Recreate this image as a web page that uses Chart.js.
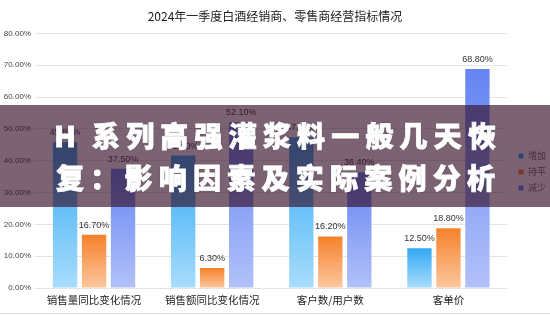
<!DOCTYPE html>
<html>
<head>
<meta charset="utf-8">
<script src="https://cdn.jsdelivr.net/npm/chart.js@4.4.1/dist/chart.umd.min.js"></script>
<style>
html,body{margin:0;padding:0;background:#fff;}
#wrap{position:relative;width:550px;height:315px;overflow:hidden;background:#fff;}
#overlay{position:absolute;left:0;top:105px;width:550px;height:102px;background:rgba(52,15,40,0.65);}
#overlay span{position:absolute;width:28px;text-align:center;color:#fff;font-family:"Noto Sans CJK SC","Noto Sans",sans-serif;font-weight:900;font-size:28px;white-space:nowrap;line-height:40px;-webkit-text-stroke:0.8px #fff;text-shadow:0 0 2px rgba(0,0,0,0.35);}
#frame{position:absolute;left:0;top:313px;width:550px;height:1px;background:#dcdcdc;}
</style>
</head>
<body>
<div id="wrap">
  <canvas id="c" width="550" height="315"></canvas>
  <div id="frame"></div>
  <div id="overlay"></div>
</div>
<script>
// ---- data ----
const chartTitle = '2024年一季度白酒经销商、零售商经营指标情况';
const categories = ['销售量同比变化情况', '销售额同比变化情况', '客户数/用户数', '客单价'];
const seriesNames = ['增加', '持平', '减少'];
const increaseValues = [45.8, 41.6, 47.4, 12.5];
const flatValues = [16.7, 6.3, 16.2, 18.8];
const decreaseValues = [37.5, 52.1, 36.4, 68.8];
const yMax = 80;
const yStep = 10;
const bannerText = ['H 系列高强灌浆料一般几天恢', '复：影响因素及实际案例分析'];

// ---- banner layout (one glyph per slot) ----
(function buildBanner() {
  const ov = document.getElementById('overlay');
  const rows = [
    { chars: ['H'].concat(Array.from(bannerText[0].slice(2))), lefts: null, start: 92, pitch: 34.18, top: 10 },
    { chars: Array.from(bannerText[1]), start: 56, pitch: 34.25, top: 52 }
  ];
  rows.forEach((row, r) => {
    row.chars.forEach((ch, k) => {
      const s = document.createElement('span');
      s.textContent = ch;
      let left;
      if (r === 0 && k === 0) { left = 51; }
      else { const idx = r === 0 ? k - 1 : k; left = row.start + idx * row.pitch; }
      s.style.left = left + 'px';
      s.style.top = row.top + 'px';
      ov.appendChild(s);
    });
  });
})();

// ---- styles ----
const topColors = ['#32a8f3', '#f5812a', '#6484f2'];
const bottomColors = ['#a8ddfc', '#fcc79e', '#b2c1f9'];
const cjk = '"Noto Sans CJK SC","Noto Sans",sans-serif';
const latin = '"Liberation Sans",Arial,sans-serif';

function barGradient(i) {
  return (c) => {
    const chart = c.chart;
    const ys = chart.scales && chart.scales.y;
    if (!ys || !c.parsed) return topColors[i];
    const y0 = ys.getPixelForValue(c.parsed.y);
    const y1 = ys.getPixelForValue(0);
    if (!isFinite(y0) || !isFinite(y1) || y0 === y1) return topColors[i];
    const g = chart.ctx.createLinearGradient(0, y0, 0, y1);
    g.addColorStop(0, topColors[i]);
    g.addColorStop(1, bottomColors[i]);
    return g;
  };
}

const valueLabels = {
  id: 'valueLabels',
  afterDatasetsDraw(chart) {
    const ctx = chart.ctx;
    ctx.save();
    ctx.font = '9px ' + latin;
    ctx.fillStyle = '#333';
    ctx.textAlign = 'center';
    ctx.textBaseline = 'middle';
    chart.data.datasets.forEach((ds, i) => {
      chart.getDatasetMeta(i).data.forEach((el, j) => {
        ctx.fillText(ds.data[j].toFixed(2) + '%', el.x, el.y - 9.5);
      });
    });
    ctx.restore();
  }
};

Chart.defaults.font.family = cjk;

const seriesData = [increaseValues, flatValues, decreaseValues];

new Chart(document.getElementById('c'), {
  type: 'bar',
  data: {
    labels: categories,
    datasets: seriesNames.map((name, i) => ({
      label: name,
      data: seriesData[i],
      backgroundColor: barGradient(i),
      borderWidth: 0,
      categoryPercentage: 0.736,
      barPercentage: 0.84
    }))
  },
  options: {
    responsive: false,
    animation: false,
    devicePixelRatio: 1,
    layout: { padding: { left: -6, right: -6, top: 0, bottom: 8 } },
    plugins: {
      title: {
        display: true,
        text: chartTitle,
        color: '#222',
        font: { size: 12, weight: 'normal', family: cjk },
        padding: { top: 9, bottom: 10 }
      },
      legend: {
        position: 'right',
        title: { display: true, text: ' ', font: { size: 1, lineHeight: 1 }, padding: { top: 36, bottom: 0 } },
        labels: {
          boxWidth: 5,
          boxHeight: 5,
          padding: 7,
          color: '#333',
          font: { size: 9, family: cjk },
          generateLabels: (chart) => chart.data.datasets.map((ds, i) => ({
            text: ds.label,
            fillStyle: topColors[i],
            strokeStyle: topColors[i],
            lineWidth: 0,
            hidden: false,
            datasetIndex: i
          }))
        }
      },
      tooltip: { enabled: false }
    },
    scales: {
      x: {
        grid: { display: false, drawTicks: false },
        border: { display: false },
        ticks: { padding: 6, maxRotation: 0, color: '#222', font: { size: 10.5, family: cjk } },
        afterFit: (s) => { s.height = 19; }
      },
      y: {
        min: 0,
        max: yMax,
        grid: { color: '#e4e4e4', drawTicks: false },
        border: { display: false },
        ticks: {
          stepSize: yStep,
          padding: 4,
          color: '#444',
          font: { size: 8, family: latin },
          callback: (v) => Number(v).toFixed(2) + '%'
        },
        afterFit: (s) => { s.width = 41; }
      },
      y2: {
        position: 'right',
        display: true,
        grid: { display: false },
        border: { display: false },
        ticks: { display: false },
        afterFit: (s) => { s.width = 4; }
      }
    }
  },
  plugins: [valueLabels]
});
</script>
</body>
</html>
